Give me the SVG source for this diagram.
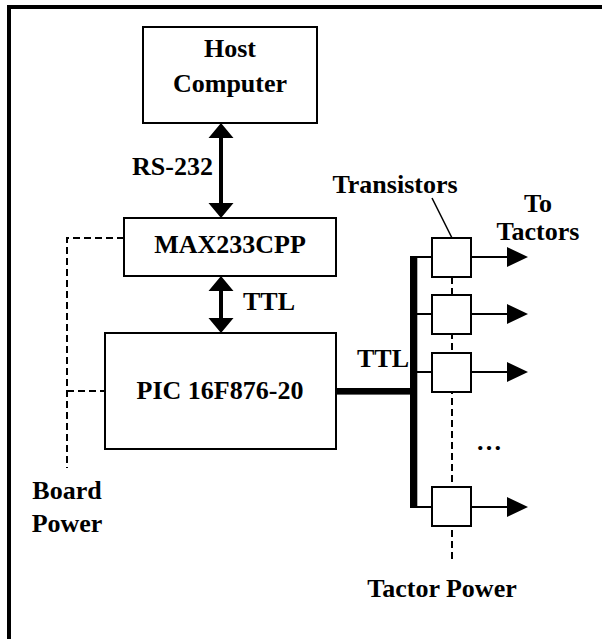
<svg xmlns="http://www.w3.org/2000/svg" width="602" height="639" viewBox="0 0 602 639">
<style>
text{font-family:"Liberation Serif","Times New Roman",serif;font-weight:bold;font-size:26px;fill:#000}
.box{fill:#fff;stroke:#000;stroke-width:2}
.thin{stroke:#000;stroke-width:2;fill:none}
.dash{stroke:#000;stroke-width:2;fill:none;stroke-dasharray:7 4}
.head{fill:#000}
</style>
<rect width="602" height="639" fill="#fff"/>
<path d="M9 639V7H602" fill="none" stroke="#000" stroke-width="4"/>
<g id="connectors">
<path class="dash" d="M124 238H67V468M67 391H105"/>
<path class="dash" d="M452 277V561"/>
<path d="M221 136V205M221 289V320" stroke="#000" stroke-width="4"/>
<path class="head" d="M221 123L208.5 138H233.5ZM221 218L208.5 203H233.5ZM221 276L208.5 291H233.5ZM221 333L208.5 318H233.5Z"/>
<rect x="336" y="388" width="78" height="6.6" fill="#000"/>
<rect x="410" y="256" width="7.3" height="252" fill="#000"/>
<path class="thin" d="M414 257H434M414 314H434M414 372H434M414 507H434"/>
<path class="thin" d="M470 257H508M470 314H508M470 372H508M470 507H508"/>
<path class="head" d="M528 257L507 247V267ZM528 314L507 304V324ZM528 372L507 362V382ZM528 507L507 497V517Z"/>
<path d="M432 198L452 238" stroke="#000" stroke-width="1.5"/>
</g>
<g id="host">
<rect class="box" x="143" y="27" width="174" height="96"/>
<text x="230" y="57" text-anchor="middle">Host</text>
<text x="230" y="92" text-anchor="middle">Computer</text>
</g>
<text x="213" y="175" text-anchor="end">RS-232</text>
<g id="max">
<rect class="box" x="124" y="218" width="212" height="58"/>
<text x="230" y="253" text-anchor="middle">MAX233CPP</text>
</g>
<text x="243" y="310">TTL</text>
<g id="pic">
<rect class="box" x="105" y="333" width="231" height="116"/>
<text x="220" y="399" text-anchor="middle">PIC 16F876-20</text>
</g>
<g id="board-power">
<text x="67" y="499" text-anchor="middle">Board</text>
<text x="67" y="532" text-anchor="middle">Power</text>
</g>
<text x="409" y="367" text-anchor="end">TTL</text>
<g id="transistors">
<rect class="box" x="432" y="238" width="39" height="39"/>
<rect class="box" x="432" y="295" width="39" height="39"/>
<rect class="box" x="432" y="353" width="39" height="39"/>
<rect class="box" x="432" y="487" width="39" height="39"/>
<text x="395" y="193" text-anchor="middle">Transistors</text>
</g>
<g id="tactors">
<text x="538" y="212" text-anchor="middle">To</text>
<text x="538" y="240" text-anchor="middle">Tactors</text>
</g>
<text x="476" y="450">…</text>
<g id="tactor-power">
<text x="442" y="597" text-anchor="middle">Tactor Power</text>
</g>
</svg>
